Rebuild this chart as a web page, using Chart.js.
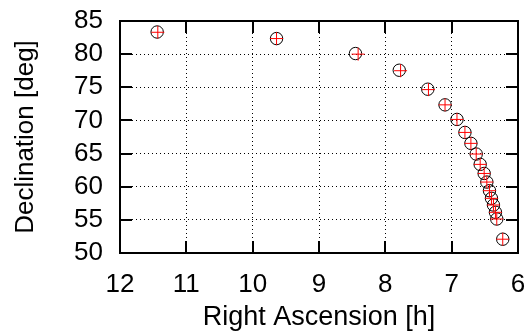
<!DOCTYPE html>
<html>
<head>
<meta charset="utf-8">
<script src="https://cdn.jsdelivr.net/npm/chart.js@4"></script>
<style>
  html, body { margin: 0; padding: 0; background: #fff; }
  canvas { display: block; }
</style>
</head>
<body>
<canvas id="chart" width="529" height="336"></canvas>
<script>
// Data
const raCircle  = [11.44, 9.64, 8.45, 7.79, 7.36, 7.10, 6.92, 6.80, 6.71, 6.63, 6.57, 6.51, 6.47, 6.43, 6.40, 6.37, 6.34, 6.32, 6.23];
const decCircle = [83.34, 82.35, 80.09, 77.57, 74.71, 72.35, 70.15, 68.19, 66.54, 64.93, 63.37, 62.00, 60.70, 59.40, 58.25, 57.24, 56.14, 55.13, 52.08];
const raCross   = [11.43, 9.64, 8.41, 7.77, 7.35, 7.10, 6.92, 6.80, 6.71, 6.63, 6.57, 6.51, 6.47, 6.43, 6.40, 6.37, 6.34, 6.32, 6.23];
const decCross  = [83.30, 82.35, 80.00, 77.50, 74.65, 72.35, 70.15, 68.19, 66.54, 64.93, 63.37, 62.00, 60.70, 59.40, 58.25, 57.24, 56.14, 55.13, 52.08];

const xTitle = 'Right Ascension [h]';
const yTitle = 'Declination [deg]';

const FONT = "'Liberation Sans', Arial, sans-serif";
const FONT_SIZE = 26;
const TICK_LEN = 12;

function toPoints(xs, ys) {
    return xs.map((v, i) => ({ x: v, y: ys[i] }));
}

// gnuplot-like frame with inward ticks on all four sides
const frameTicks = {
    id: 'frameTicks',
    afterDraw(chart) {
        const { ctx, chartArea: a, scales: { x, y } } = chart;
        ctx.save();
        ctx.strokeStyle = '#000';
        ctx.lineWidth = 2;
        ctx.beginPath();
        x.ticks.forEach(t => {
            const px = Math.round(x.getPixelForValue(t.value));
            ctx.moveTo(px, a.bottom); ctx.lineTo(px, a.bottom - TICK_LEN);
            ctx.moveTo(px, a.top); ctx.lineTo(px, a.top + TICK_LEN);
        });
        y.ticks.forEach(t => {
            const py = Math.round(y.getPixelForValue(t.value));
            ctx.moveTo(a.left, py); ctx.lineTo(a.left + TICK_LEN, py);
            ctx.moveTo(a.right, py); ctx.lineTo(a.right - TICK_LEN, py);
        });
        ctx.stroke();
        ctx.strokeRect(a.left, a.top, a.right - a.left, a.bottom - a.top);
        ctx.restore();
    }
};

new Chart(document.getElementById('chart'), {
    type: 'scatter',
    data: {
        datasets: [
            {
                label: 'cross',
                data: toPoints(raCross, decCross),
                pointStyle: 'cross',
                pointRadius: 6.5,
                pointBorderColor: '#ff0000',
                pointBorderWidth: 1,
                pointBackgroundColor: 'transparent'
            },
            {
                label: 'circle',
                data: toPoints(raCircle, decCircle),
                pointStyle: 'circle',
                pointRadius: 6.2,
                pointBorderColor: '#000',
                pointBorderWidth: 1,
                pointBackgroundColor: 'transparent'
            }
        ]
    },
    options: {
        responsive: false,
        animation: false,
        layout: { autoPadding: false, padding: { top: 21, right: 11, left: 0, bottom: 0 } },
        plugins: { legend: { display: false }, tooltip: { enabled: false } },
        scales: {
            x: {
                type: 'linear',
                reverse: true,
                min: 6,
                max: 12,
                afterFit: s => { s.height = 83; s.paddingLeft = 0; s.paddingRight = 0; },
                ticks: { stepSize: 1, autoSkip: false, maxRotation: 0, padding: 16, color: '#000', font: { family: FONT, size: FONT_SIZE } },
                grid: { color: '#000', lineWidth: 1, drawTicks: false },
                border: { display: false, dash: [1, 3] },
                title: { display: true, text: xTitle, color: '#000', font: { family: FONT, size: 27 }, padding: { top: 0, bottom: 2 } }
            },
            y: {
                type: 'linear',
                min: 50,
                max: 85,
                afterFit: s => { s.width = 120; s.paddingTop = 0; s.paddingBottom = 0; },
                ticks: { stepSize: 5, autoSkip: false, padding: 17, color: '#000', font: { family: FONT, size: FONT_SIZE } },
                grid: { color: '#000', lineWidth: 1, drawTicks: false },
                border: { display: false, dash: [1, 3] },
                title: { display: true, text: yTitle, color: '#000', font: { family: FONT, size: FONT_SIZE }, padding: { top: 10, bottom: 0 } }
            }
        }
    },
    plugins: [frameTicks]
});
</script>
</body>
</html>
